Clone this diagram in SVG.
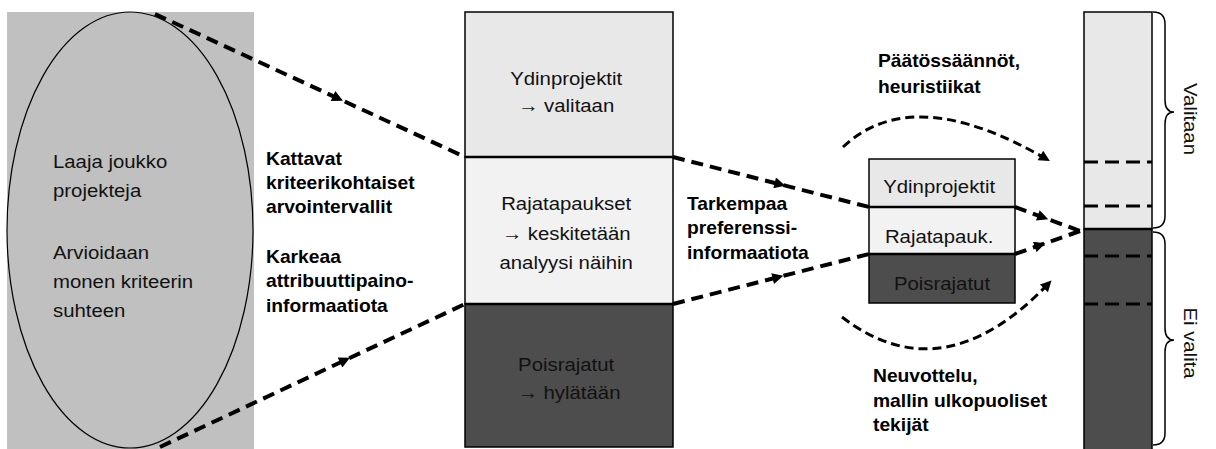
<svg xmlns="http://www.w3.org/2000/svg" width="1216" height="449" viewBox="0 0 1216 449">
<style>
.t { font-family: "Liberation Sans", Arial, sans-serif; font-size: 18.5px; fill: #111; }
.b { font-family: "Liberation Sans", Arial, sans-serif; font-size: 17.5px; font-weight: bold; fill: #000; }
.conn { fill: none; stroke: #000; stroke-width: 4; stroke-dasharray: 12 7; }
.curve { fill: none; stroke: #000; stroke-width: 3; stroke-dasharray: 9 5; }
.div { stroke: #000; stroke-width: 2.5; }
.bard { stroke: #000; stroke-width: 3; stroke-dasharray: 14 7; }
.box { stroke: #000; stroke-width: 1.5; }
.light { fill: #e8e8e8; }
.pale { fill: #f2f2f2; }
.dark { fill: #4d4d4d; }
.brace { fill: none; stroke: #000; stroke-width: 1.5; }
</style>
<defs>
<marker id="mid" viewBox="0 0 10 10" refX="5" refY="5" markerWidth="14" markerHeight="11" orient="auto" markerUnits="userSpaceOnUse">
<path d="M0,0 L10,5 L0,10 z" fill="#000"/>
</marker>
<marker id="end" viewBox="0 0 10 10" refX="8" refY="5" markerWidth="14" markerHeight="11" orient="auto" markerUnits="userSpaceOnUse">
<path d="M0,0 L10,5 L0,10 z" fill="#000"/>
</marker>
</defs>

<g id="projects">
<rect x="7" y="12" width="247" height="440" fill="#c0c0c0"/>
<ellipse cx="130" cy="230" rx="123" ry="218" fill="#c0c0c0" stroke="#000" stroke-width="1.2"/>
<text class="t" transform="translate(53,0) scale(1.1,1)">
<tspan x="0" y="168">Laaja joukko</tspan>
<tspan x="0" y="197">projekteja</tspan>
<tspan x="0" y="259">Arvioidaan</tspan>
<tspan x="0" y="288">monen kriteerin</tspan>
<tspan x="0" y="317">suhteen</tspan>
</text>
</g>

<g id="middle-box">
<rect class="box light" x="465" y="12" width="208" height="145"/>
<rect class="box pale" x="465" y="157" width="208" height="147"/>
<rect class="box dark" x="465" y="304" width="208" height="143"/>
<line class="div" x1="465" y1="157" x2="673" y2="157"/>
<line class="div" x1="465" y1="304" x2="673" y2="304"/>
<text class="t" text-anchor="middle" transform="translate(569,0) scale(1.1,1)">
<tspan x="0" y="85">Ydinprojektit</tspan>
<tspan x="0" y="112">→ valitaan</tspan>
<tspan x="0" y="210">Rajatapaukset</tspan>
<tspan x="0" y="240">→ keskitetään</tspan>
<tspan x="0" y="269">analyysi näihin</tspan>
<tspan x="0" y="371">Poisrajatut</tspan>
<tspan x="0" y="399">→ hylätään</tspan>
</text>
</g>

<g id="small-box">
<rect class="box light" x="869" y="159" width="146" height="48"/>
<rect class="box pale" x="869" y="207" width="146" height="47"/>
<rect class="box dark" x="869" y="254" width="146" height="49"/>
<line class="div" x1="869" y1="207" x2="1015" y2="207"/>
<line class="div" x1="869" y1="254" x2="1015" y2="254"/>
<text class="t" text-anchor="middle" transform="translate(942,0) scale(1.1,1)">
<tspan x="0" y="193">Ydinprojektit</tspan>
<tspan x="0" y="243">Rajatapauk.</tspan>
<tspan x="0" y="290">Poisrajatut</tspan>
</text>
</g>

<g id="result-bar">
<rect class="box light" x="1084" y="12" width="68" height="217"/>
<rect class="box dark" x="1084" y="229" width="68" height="225"/>
<line class="div" x1="1084" y1="229" x2="1152" y2="229"/>
<line class="bard" x1="1084" y1="162" x2="1152" y2="162"/>
<line class="bard" x1="1084" y1="206" x2="1152" y2="206"/>
<line class="bard" x1="1084" y1="256" x2="1152" y2="256"/>
<line class="bard" x1="1084" y1="304" x2="1152" y2="304"/>
</g>

<g id="brace-valitaan">
<path class="brace" d="M1153,12 Q1165,12 1165,24 L1165,100 Q1165,112 1174,112 Q1165,112 1165,124 L1165,216 Q1165,228 1153,228"/>
<text class="t" text-anchor="middle" transform="translate(1184,119) rotate(90) scale(1.1,1)" x="0" y="0">Valitaan</text>
</g>

<g id="brace-ei-valita">
<path class="brace" d="M1153,232 Q1165,232 1165,244 L1165,328 Q1165,340 1174,340 Q1165,340 1165,352 L1165,433 Q1165,445 1153,445"/>
<text class="t" text-anchor="middle" transform="translate(1184,343) rotate(90) scale(1.1,1)" x="0" y="0">Ei valita</text>
</g>

<g id="labels">
<text class="b" transform="translate(266,0) scale(1.1,1)">
<tspan x="0" y="165">Kattavat</tspan>
<tspan x="0" y="189">kriteerikohtaiset</tspan>
<tspan x="0" y="213">arvointervallit</tspan>
<tspan x="0" y="263">Karkeaa</tspan>
<tspan x="0" y="287">attribuuttipaino-</tspan>
<tspan x="0" y="312">informaatiota</tspan>
</text>
<text class="b" transform="translate(687,0) scale(1.1,1)">
<tspan x="0" y="210">Tarkempaa</tspan>
<tspan x="0" y="234">preferenssi-</tspan>
<tspan x="0" y="259">informaatiota</tspan>
</text>
<text class="b" transform="translate(878,0) scale(1.1,1)">
<tspan x="0" y="67">Päätössäännöt,</tspan>
<tspan x="0" y="93">heuristiikat</tspan>
</text>
<text class="b" transform="translate(873,0) scale(1.1,1)">
<tspan x="0" y="382">Neuvottelu,</tspan>
<tspan x="0" y="407">mallin ulkopuoliset</tspan>
<tspan x="0" y="431">tekijät</tspan>
</text>
</g>

<g id="connectors">
<path class="conn" marker-mid="url(#mid)" d="M155,14 L338,98.4 L465,157"/>
<path class="conn" marker-mid="url(#mid)" d="M160,447 L345,360.2 L465,304"/>
<path class="conn" marker-mid="url(#mid)" d="M673,157 L780,184.3 L869,207"/>
<path class="conn" marker-mid="url(#mid)" d="M673,304 L778,277.2 L869,254"/>
<path class="conn" marker-mid="url(#mid)" d="M1015,207 L1043,217.3 L1080,231"/>
<path class="conn" marker-mid="url(#mid)" d="M1015,254 L1040,245.2 L1080,231"/>
<path class="curve" marker-end="url(#end)" d="M843,147 Q913,81 1048,160"/>
<path class="curve" marker-end="url(#end)" d="M842,317 Q943,395 1050,282"/>
</g>
</svg>
